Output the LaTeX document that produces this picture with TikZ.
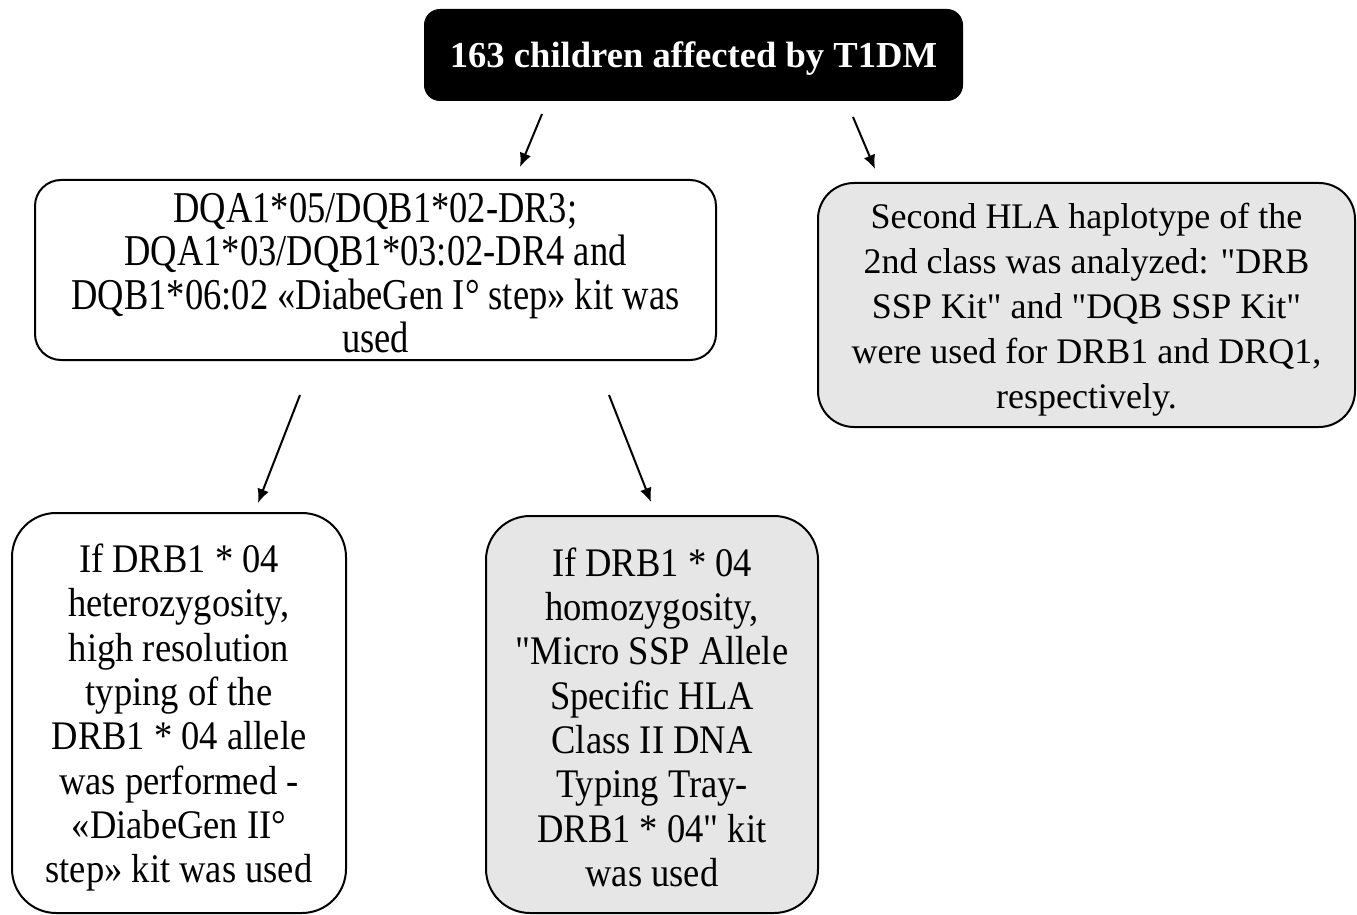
\documentclass[tikz,border=0pt]{standalone}
\usepackage{fontspec}
\setmainfont{Liberation Serif}
\newfontfamily\plainserif{Liberation Serif}
\newfontfamily\condA[FakeStretch=0.83]{Liberation Serif}
\newfontfamily\condB[FakeStretch=0.9]{Liberation Serif}
\usetikzlibrary{arrows.meta,positioning}
\definecolor{boxgray}{RGB}{230,230,230}
\newcommand{\pad}[1]{\rule{0pt}{#1}}
\tikzset{
	box/.style={draw=black, line width=1pt, align=center, inner sep=0pt},
	darkbox/.style={box, fill=black, text=white, rounded corners=7.5pt,
		font=\bfseries\fontsize{18.3}{22}\selectfont},
	greybox/.style={box, fill=boxgray},
	arr/.style={-{Latex[length=7pt,width=6pt]}, line width=1pt}
}

\begin{document}
\begin{tikzpicture}[x=0.5pt,y=-0.5pt]
	\useasboundingbox (0,0) rectangle (1357,915);

	\node[darkbox, minimum width=268.5pt, minimum height=45pt, text height=12.4pt, text depth=0pt] (children) at (693.5,55)
		{163 children affected by T1DM};
	\node[box, rounded corners=13pt, minimum width=340.5pt, minimum height=90pt,
		font=\condA\fontsize{22}{21.8}\selectfont] (dqa) at (375.5,270)
		{\pad{17.7pt}DQA1*05/DQB1*02-DR3;\\DQA1*03/DQB1*03:02-DR4 and\\DQB1*06:02 «DiabeGen I° step» kit was\\used};
	\node[greybox, rounded corners=18pt, minimum width=268.5pt, minimum height=122pt,
		font=\plainserif\fontsize{18}{22.5}\selectfont] (second) at (1086.5,305)
		{\pad{16.9pt}Second HLA haplotype of the\\2nd class was analyzed: "DRB\\SSP Kit" and "DQB SSP Kit"\\were used for DRB1 and DRQ1,\\respectively.};
	\node[box, rounded corners=22pt, minimum width=167pt, minimum height=200pt,
		font=\condB\fontsize{20.3}{22.15}\selectfont] (hetero) at (179,713)
		{\pad{19pt}If DRB1 * 04\\heterozygosity,\\high resolution\\typing of the\\DRB1 * 04 allele\\was performed -\\«DiabeGen II°\\step» kit was used};
	\node[greybox, rounded corners=22pt, minimum width=166pt, minimum height=198.5pt,
		font=\condB\fontsize{20.3}{22.15}\selectfont] (homo) at (652,714.5)
		{\pad{17pt}If DRB1 * 04\\homozygosity,\\"Micro SSP Allele\\Specific HLA\\Class II DNA\\Typing Tray-\\DRB1 * 04" kit\\was used};

	\coordinate (c1) at (542,114);
	\coordinate (d1) at (520,167);
	\coordinate (c2) at (853,117);
	\coordinate (d2) at (875,169);
	\coordinate (c3) at (300,395);
	\coordinate (d3) at (258,503);
	\coordinate (c4) at (609,395);
	\coordinate (d4) at (651,502);

	\draw[arr] (c1) -- (d1);
	\draw[arr] (c2) -- (d2);
	\draw[arr] (c3) -- (d3);
	\draw[arr] (c4) -- (d4);
\end{tikzpicture}
\end{document}
